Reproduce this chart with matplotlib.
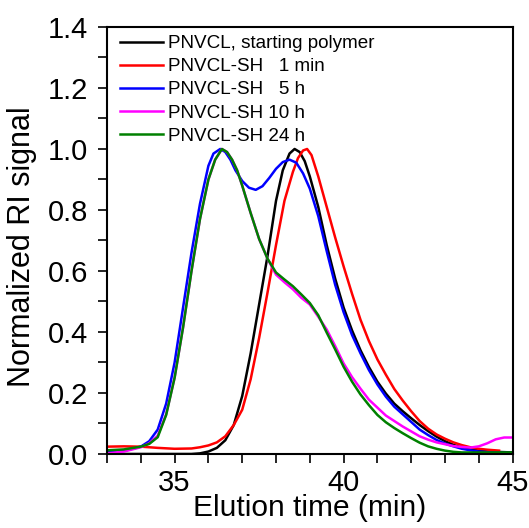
import numpy as np
import matplotlib
matplotlib.use("Agg")
import matplotlib.pyplot as plt
from matplotlib.ticker import MultipleLocator

plt.rcParams['font.family'] = ['Liberation Sans', 'DejaVu Sans']

# elution time (min) and normalized RI signal
t_start = [33.0, 35.5, 35.75, 36.0, 36.25, 36.5, 36.75, 37.0, 37.25, 37.5,
           37.75, 38.0, 38.2, 38.4, 38.55, 38.7, 38.85, 39.0, 39.25, 39.5,
           39.75, 40.0, 40.25, 40.5, 40.75, 41.0, 41.25, 41.5, 41.75, 42.0,
           42.25, 42.5, 42.75, 43.0, 43.25, 43.5, 43.75, 44.0, 44.5, 45.0]
pnvcl_start = [0.0, 0.0, 0.002, 0.008, 0.02, 0.045, 0.095, 0.19, 0.33, 0.49,
               0.65, 0.83, 0.93, 0.985, 1.0, 0.99, 0.96, 0.91, 0.81, 0.685,
               0.575, 0.48, 0.405, 0.34, 0.285, 0.237, 0.198, 0.165, 0.14, 0.117,
               0.095, 0.075, 0.057, 0.042, 0.03, 0.021, 0.015, 0.011, 0.007, 0.005]

t_1min = [33.0, 33.5, 34.0, 34.5, 35.0, 35.5, 35.75, 36.0, 36.25, 36.5,
          36.75, 37.0, 37.25, 37.5, 37.75, 38.0, 38.25, 38.5, 38.65, 38.8,
          38.92, 39.05, 39.25, 39.5, 39.75, 40.0, 40.25, 40.5, 40.75, 41.0,
          41.25, 41.5, 41.75, 42.0, 42.25, 42.5, 42.75, 43.0, 43.25, 43.5,
          43.75, 44.0, 44.25, 44.6]
sh_1min = [0.024, 0.025, 0.024, 0.02, 0.017, 0.018, 0.022, 0.028, 0.038, 0.058,
           0.095, 0.145, 0.245, 0.38, 0.53, 0.685, 0.83, 0.925, 0.97, 0.995,
           1.0, 0.98, 0.91, 0.81, 0.71, 0.615, 0.525, 0.44, 0.37, 0.31,
           0.26, 0.213, 0.175, 0.14, 0.108, 0.083, 0.064, 0.05, 0.038, 0.029,
           0.022, 0.017, 0.014, 0.011]

t_5h = [33.0, 33.5, 34.0, 34.25, 34.5, 34.75, 35.0, 35.25, 35.5, 35.75,
        36.0, 36.15, 36.35, 36.5, 36.65, 36.8, 37.0, 37.2, 37.4, 37.6,
        37.8, 38.0, 38.2, 38.4, 38.6, 38.8, 39.0, 39.25, 39.5, 39.75,
        40.0, 40.25, 40.5, 40.75, 41.0, 41.25, 41.5, 41.75, 42.0, 42.25,
        42.5, 42.75, 43.0, 43.25, 43.5, 43.75, 44.0, 44.5, 45.0]
sh_5h = [0.006, 0.01, 0.024, 0.042, 0.08, 0.165, 0.3, 0.48, 0.66, 0.82,
         0.945, 0.985, 1.0, 0.99, 0.965, 0.93, 0.895, 0.873, 0.866, 0.878,
         0.905, 0.935, 0.957, 0.965, 0.955, 0.92, 0.87, 0.78, 0.665, 0.555,
         0.465, 0.39, 0.33, 0.275, 0.228, 0.188, 0.155, 0.13, 0.105, 0.08,
         0.062, 0.046, 0.034, 0.025, 0.017, 0.012, 0.008, 0.004, 0.003]

t_10h = [33.0, 33.5, 34.0, 34.25, 34.5, 34.75, 35.0, 35.25, 35.5, 35.75,
         36.0, 36.2, 36.4, 36.55, 36.7, 36.85, 37.0, 37.25, 37.5, 37.75,
         38.0, 38.25, 38.5, 38.75, 39.0, 39.25, 39.5, 39.75, 40.0, 40.25,
         40.5, 40.75, 41.0, 41.25, 41.5, 41.75, 42.0, 42.25, 42.5, 42.75,
         43.0, 43.25, 43.5, 43.75, 44.0, 44.25, 44.5, 44.75, 45.0]
sh_10h = [0.002, 0.008, 0.022, 0.035, 0.06, 0.13, 0.25, 0.415, 0.6, 0.77,
          0.9, 0.965, 1.0, 0.99, 0.965, 0.93, 0.88, 0.79, 0.705, 0.64,
          0.588, 0.563, 0.54, 0.512, 0.49, 0.45, 0.408, 0.354, 0.297, 0.252,
          0.214, 0.178, 0.152, 0.126, 0.108, 0.09, 0.074, 0.058, 0.047, 0.038,
          0.032, 0.026, 0.023, 0.021, 0.025, 0.035, 0.048, 0.054, 0.054]

t_24h = [33.0, 33.5, 34.0, 34.25, 34.5, 34.75, 35.0, 35.25, 35.5, 35.75,
         36.0, 36.2, 36.4, 36.55, 36.7, 36.85, 37.0, 37.25, 37.5, 37.75,
         38.0, 38.25, 38.5, 38.75, 39.0, 39.25, 39.5, 39.75, 40.0, 40.25,
         40.5, 40.75, 41.0, 41.25, 41.5, 41.75, 42.0, 42.25, 42.5, 42.75,
         43.0, 43.25, 43.5, 44.0, 45.0]
sh_24h = [0.012, 0.015, 0.024, 0.033, 0.055, 0.128, 0.25, 0.415, 0.6, 0.77,
          0.9, 0.965, 1.0, 0.99, 0.965, 0.93, 0.88, 0.79, 0.705, 0.64,
          0.595, 0.572, 0.55, 0.523, 0.495, 0.455, 0.398, 0.343, 0.286, 0.237,
          0.195, 0.16, 0.128, 0.104, 0.085, 0.068, 0.052, 0.037, 0.025, 0.017,
          0.011, 0.007, 0.005, 0.005, 0.005]

labels = ['PNVCL, starting polymer', 'PNVCL-SH   1 min', 'PNVCL-SH   5 h',
          'PNVCL-SH 10 h', 'PNVCL-SH 24 h']
colors = ['black', '#ff0000', '#0000ff', '#ff00ff', '#008000']
series = [(t_start, pnvcl_start), (t_1min, sh_1min), (t_5h, sh_5h),
          (t_10h, sh_10h), (t_24h, sh_24h)]

fig = plt.figure(figsize=(5.29, 5.28), dpi=100)
ax = fig.add_axes([0.2023, 0.1402, 0.7667, 0.8087])

for (t, y), lab, c in zip(series, labels, colors):
    ax.plot(t, y, color=c, lw=1.8, label=lab)

ax.set_xlim(33, 45)
ax.set_ylim(0, 1.4)
ax.xaxis.set_major_locator(MultipleLocator(5))
ax.xaxis.set_minor_locator(MultipleLocator(1))
ax.yaxis.set_major_locator(MultipleLocator(0.2))
ax.yaxis.set_minor_locator(MultipleLocator(0.1))
ax.yaxis.set_major_formatter(plt.FormatStrFormatter('%.1f'))
ax.tick_params(which='both', direction='out', length=6.5, width=1.2)
ax.tick_params(axis='y', which='major', labelsize=21, pad=7)
ax.tick_params(axis='x', which='major', labelsize=21, pad=4)
for s in ax.spines.values():
    s.set_linewidth(1.5)

ax.set_xlabel('Elution time (min)', fontsize=21.5)
ax.set_ylabel('Normalized RI signal', fontsize=22)
ax.xaxis.set_label_coords(0.499, -0.094)
ax.yaxis.set_label_coords(-0.173, 0.485)

ax.legend(loc='upper left', bbox_to_anchor=(0.032, 0.981), frameon=False,
          fontsize=13.6, handlelength=2.3, handletextpad=0.26,
          labelspacing=0.31, borderpad=0, borderaxespad=0)

fig.savefig('out.png', dpi=100)
